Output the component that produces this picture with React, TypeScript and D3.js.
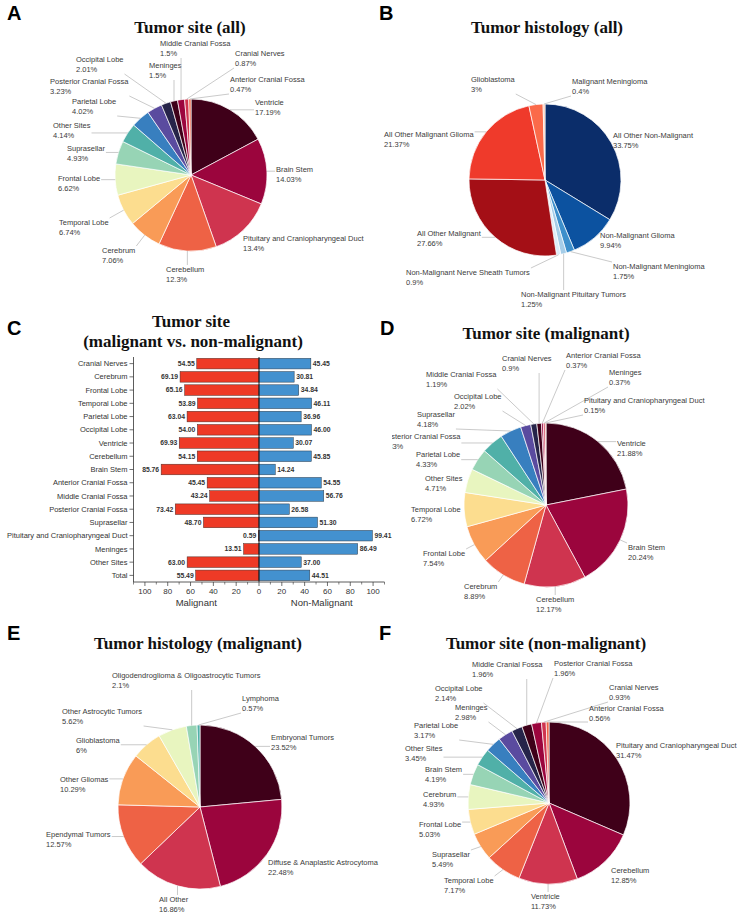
import React from 'react';
import * as d3 from 'd3';

// ---------------- DATA ----------------
const siteAllNames = ['Ventricle', 'Brain Stem', 'Pituitary and Craniopharyngeal Duct', 'Cerebellum', 'Cerebrum', 'Temporal Lobe', 'Frontal Lobe', 'Suprasellar', 'Other Sites', 'Parietal Lobe', 'Posterior Cranial Fossa', 'Occipital Lobe', 'Meninges', 'Middle Cranial Fossa', 'Cranial Nerves', 'Anterior Cranial Fossa'];
const siteAllValues = [17.19, 14.03, 13.4, 12.3, 7.06, 6.74, 6.62, 4.93, 4.14, 4.02, 3.23, 2.01, 1.5, 1.5, 0.87, 0.47];

const histAllNames = ['All Other Non-Malignant', 'Non-Malignant Glioma', 'Non-Malignant Meningioma', 'Non-Malignant Pituitary Tumors', 'Non-Malignant Nerve Sheath Tumors', 'All Other Malignant', 'All Other Malignant Glioma', 'Glioblastoma', 'Malignant Meningioma'];
const histAllValues = [33.75, 9.94, 1.75, 1.25, 0.9, 27.66, 21.37, 3, 0.4];

const barCategories = ['Cranial Nerves', 'Cerebrum', 'Frontal Lobe', 'Temporal Lobe', 'Parietal Lobe', 'Occipital Lobe', 'Ventricle', 'Cerebellum', 'Brain Stem', 'Anterior Cranial Fossa', 'Middle Cranial Fossa', 'Posterior Cranial Fossa', 'Suprasellar', 'Pituitary and Craniopharyngeal Duct', 'Meninges', 'Other Sites', 'Total'];
const barMalignant = [54.55, 69.19, 65.16, 53.89, 63.04, 54.0, 69.93, 54.15, 85.76, 45.45, 43.24, 73.42, 48.7, 0.59, 13.51, 63.0, 55.49];
const barNonMalignant = [45.45, 30.81, 34.84, 46.11, 36.96, 46.0, 30.07, 45.85, 14.24, 54.55, 56.76, 26.58, 51.3, 99.41, 86.49, 37.0, 44.51];
const barTicks = [-100, -80, -60, -40, -20, 0, 20, 40, 60, 80, 100];

const siteMalNames = ['Ventricle', 'Brain Stem', 'Cerebellum', 'Cerebrum', 'Frontal Lobe', 'Temporal Lobe', 'Other Sites', 'Parietal Lobe', 'Posterior Cranial Fossa', 'Suprasellar', 'Occipital Lobe', 'Middle Cranial Fossa', 'Cranial Nerves', 'Anterior Cranial Fossa', 'Meninges', 'Pituitary and Craniopharyngeal Duct'];
const siteMalValues = [21.88, 20.24, 12.17, 8.89, 7.54, 6.72, 4.71, 4.33, 4.33, 4.18, 2.02, 1.19, 0.9, 0.37, 0.37, 0.15];

const histMalNames = ['Embryonal Tumors', 'Diffuse & Anaplastic Astrocytoma', 'All Other', 'Ependymal Tumors', 'Other Gliomas', 'Glioblastoma', 'Other Astrocytic Tumors', 'Oligodendroglioma & Oligoastrocytic Tumors', 'Lymphoma'];
const histMalValues = [23.52, 22.48, 16.86, 12.57, 10.29, 6, 5.62, 2.1, 0.57];

const siteNonNames = ['Pituitary and Craniopharyngeal Duct', 'Cerebellum', 'Ventricle', 'Temporal Lobe', 'Suprasellar', 'Frontal Lobe', 'Cerebrum', 'Brain Stem', 'Other Sites', 'Parietal Lobe', 'Meninges', 'Occipital Lobe', 'Middle Cranial Fossa', 'Posterior Cranial Fossa', 'Cranial Nerves', 'Anterior Cranial Fossa'];
const siteNonValues = [31.47, 12.85, 11.73, 7.17, 5.49, 5.03, 4.93, 4.19, 3.45, 3.17, 2.98, 2.14, 1.96, 1.96, 0.93, 0.56];

// ---------------- LAYOUT / STYLE ----------------
const spectralColors = ['#3f0019', '#9b053d', '#cf344f', '#ee6245', '#f99b57', '#fcdd8f', '#e8f5bf', '#97d4b5', '#50b0a8', '#387fbf', '#5a4b9f', '#262449'];
const histAllColors = ['#0b2d6a', '#0c52a0', '#3d8fcb', '#a5cde8', '#dcecf8', '#a40f16', '#ef3a2b', '#fb6a4a', '#fbc2a9'];

// label anchor positions (left x, first-line baseline)
const siteAllLabelXY: [number, number][] = [[255, 105], [276, 172], [243, 241], [166, 272], [102, 253], [59, 225], [58, 181], [67, 151], [53, 128], [72, 104], [50, 84], [76, 62], [149, 68], [160, 46], [235, 56], [230, 82]];
const histAllLabelXY: [number, number][] = [[613, 138], [600, 238], [613, 269], [521, 297], [406, 275], [417, 236], [384, 137], [471, 82], [572, 84]];
const siteMalLabelXY: [number, number][] = [[617, 446], [628, 550], [536, 602], [464, 589], [423, 556], [411, 512], [425, 481], [416, 457], [382, 439], [417, 417], [454, 399], [426, 377], [502, 361], [566, 358], [609, 375], [584, 403]];
const histMalLabelXY: [number, number][] = [[271, 740], [268, 865], [159, 902], [46, 837], [60, 782], [76, 743], [62, 714], [112, 678], [242, 701]];
const siteNonLabelXY: [number, number][] = [[616, 748], [611, 873], [531, 899], [444, 883], [432, 857], [419, 827], [423, 797], [425, 772], [405, 751], [414, 728], [455, 710], [435, 691], [472, 667], [554, 666], [609, 690], [589, 711]];

const LABEL_FONT = '7.5px "Liberation Sans", Arial, sans-serif';
const SANS = '"Liberation Sans", Arial, sans-serif';
const SERIF = '"Liberation Serif", "Times New Roman", serif';

let measureCtx: CanvasRenderingContext2D | null = null;
function textWidth(s: string, font: string) {
  if (!measureCtx) {
    const c = document.createElement('canvas');
    measureCtx = c.getContext('2d');
  }
  if (!measureCtx) return s.length * 4;
  measureCtx.font = font;
  return measureCtx.measureText(s).width;
}

type PieProps = {
  cx: number; cy: number; r: number;
  names: string[]; values: number[]; colors: string[];
  labelXY: [number, number][];
};

function Pie({ cx, cy, r, names, values, colors, labelXY }: PieProps) {
  const arcs = d3.pie<number>().sort(null).value((d) => d)(values);
  const arcGen = d3.arc<d3.PieArcDatum<number>>().innerRadius(0).outerRadius(r);
  return (
    <g>
      <g transform={`translate(${cx},${cy})`}>
        {arcs.map((a, i) => (
          <path key={i} d={arcGen(a) || ''} fill={colors[i % colors.length]} stroke="#ffffff" strokeWidth={0.7} />
        ))}
      </g>
      {arcs.map((a, i) => {
        const mid = (a.startAngle + a.endAngle) / 2;
        const px = cx + r * Math.sin(mid);
        const py = cy - r * Math.cos(mid);
        const [lx, ly] = labelXY[i];
        const pct = `${values[i]}%`;
        const w = Math.max(textWidth(names[i], LABEL_FONT), textWidth(pct, LABEL_FONT));
        const x0 = lx - 1, x1 = lx + w + 1, y0 = ly - 7, y1 = ly + 12;
        const qx = Math.min(Math.max(px, x0), x1);
        const qy = Math.min(Math.max(py, y0), y1);
        const dist = Math.hypot(qx - px, qy - py);
        return (
          <g key={`l${i}`}>
            {dist > 7 && <line x1={px} y1={py} x2={qx} y2={qy} stroke="#a6a6a6" strokeWidth={0.6} />}
            <text x={lx} y={ly} fontFamily={SANS} fontSize={7.5} fill="#3b3b3b">{names[i]}</text>
            <text x={lx} y={ly + 10} fontFamily={SANS} fontSize={7.5} fill="#3b3b3b">{pct}</text>
          </g>
        );
      })}
    </g>
  );
}

function PanelTitle({ x, y, text }: { x: number; y: number; text: string }) {
  return <text x={x} y={y} textAnchor="middle" fontFamily={SERIF} fontWeight="bold" fontSize={17} fill="#111">{text}</text>;
}
function PanelLetter({ x, y, text }: { x: number; y: number; text: string }) {
  return <text x={x} y={y} fontFamily={SANS} fontWeight="bold" fontSize={20} fill="#000">{text}</text>;
}

function BarChart() {
  const x = d3.scaleLinear().domain([-110, 110]).range([133.5, 384.5]);
  const y = d3.scaleBand<string>().domain(barCategories).range([357, 582]).paddingInner(0.2).paddingOuter(0.1);
  const bw = y.bandwidth();
  const minor = d3.range(-110, 111, 10).filter((v) => v % 20 !== 0);
  const axisY = 582;
  return (
    <g>
      {barCategories.map((c, i) => {
        const yc = (y(c) as number) + bw / 2;
        return (
          <g key={c}>
            <rect x={x(-barMalignant[i])} y={y(c)} width={x(0) - x(-barMalignant[i])} height={bw} fill="#ee3a26" stroke="#4a2a25" strokeWidth={0.5} />
            <rect x={x(0)} y={y(c)} width={x(barNonMalignant[i]) - x(0)} height={bw} fill="#4391cf" stroke="#2a3a4a" strokeWidth={0.5} />
            <text x={x(-barMalignant[i]) - 2} y={yc + 2.4} textAnchor="end" fontFamily={SANS} fontWeight="bold" fontSize={6.8} fill="#333">{barMalignant[i].toFixed(2)}</text>
            <text x={x(barNonMalignant[i]) + 2} y={yc + 2.4} fontFamily={SANS} fontWeight="bold" fontSize={6.8} fill="#333">{barNonMalignant[i].toFixed(2)}</text>
            <line x1={x(-110) - 4} x2={x(-110)} y1={yc} y2={yc} stroke="#333" strokeWidth={0.7} />
            <text x={x(-110) - 6} y={yc + 2.6} textAnchor="end" fontFamily={SANS} fontSize={7.5} fill="#333">{c}</text>
          </g>
        );
      })}
      <line x1={x(0)} x2={x(0)} y1={357} y2={axisY} stroke="#111" strokeWidth={0.9} />
      <line x1={x(-110)} x2={x(-110)} y1={357} y2={axisY} stroke="#333" strokeWidth={0.8} />
      <line x1={x(-110)} x2={x(110)} y1={axisY} y2={axisY} stroke="#333" strokeWidth={0.8} />
      {barTicks.map((t) => (
        <g key={t}>
          <line x1={x(t)} x2={x(t)} y1={axisY} y2={axisY + 4} stroke="#333" strokeWidth={0.7} />
          <text x={x(t)} y={axisY + 12} textAnchor="middle" fontFamily={SANS} fontSize={8} fill="#333">{Math.abs(t)}</text>
        </g>
      ))}
      {minor.map((t) => (
        <line key={`m${t}`} x1={x(t)} x2={x(t)} y1={axisY} y2={axisY + 2.5} stroke="#333" strokeWidth={0.6} />
      ))}
      <text x={x(-55)} y={606} textAnchor="middle" fontFamily={SANS} fontSize={9.5} fill="#333">Malignant</text>
      <text x={x(55)} y={606} textAnchor="middle" fontFamily={SANS} fontSize={9.5} fill="#333">Non-Malignant</text>
    </g>
  );
}

export default function App() {
  return (
    <svg width={747} height={916} viewBox="0 0 747 916" style={{ display: 'block', position: 'absolute', left: 0, top: 0, background: '#fff' }}>
      <defs>
        <clipPath id="clipD"><rect x={392} y={300} width={355} height={320} /></clipPath>
      </defs>
      <rect x={0} y={0} width={747} height={916} fill="#fff" />

      {/* A */}
      <PanelLetter x={7} y={20} text="A" />
      <PanelTitle x={190} y={33} text="Tumor site (all)" />
      <Pie cx={191} cy={175} r={76} names={siteAllNames} values={siteAllValues} colors={spectralColors} labelXY={siteAllLabelXY} />

      {/* B */}
      <PanelLetter x={379} y={20} text="B" />
      <PanelTitle x={547} y={33} text="Tumor histology (all)" />
      <Pie cx={545} cy={180} r={76} names={histAllNames} values={histAllValues} colors={histAllColors} labelXY={histAllLabelXY} />

      {/* C */}
      <PanelLetter x={7} y={335} text="C" />
      <PanelTitle x={191} y={327} text="Tumor site" />
      <PanelTitle x={193} y={347} text="(malignant vs. non-malignant)" />
      <BarChart />

      {/* D */}
      <PanelLetter x={380} y={335} text="D" />
      <PanelTitle x={546} y={339} text="Tumor site (malignant)" />
      <g clipPath="url(#clipD)">
        <Pie cx={546} cy={505} r={82} names={siteMalNames} values={siteMalValues} colors={spectralColors} labelXY={siteMalLabelXY} />
      </g>

      {/* E */}
      <PanelLetter x={7} y={640} text="E" />
      <PanelTitle x={198} y={649} text="Tumor histology (malignant)" />
      <Pie cx={200} cy={807} r={82} names={histMalNames} values={histMalValues} colors={spectralColors} labelXY={histMalLabelXY} />

      {/* F */}
      <PanelLetter x={379} y={640} text="F" />
      <PanelTitle x={546} y={649} text="Tumor site (non-malignant)" />
      <Pie cx={549} cy={803} r={81} names={siteNonNames} values={siteNonValues} colors={spectralColors} labelXY={siteNonLabelXY} />
    </svg>
  );
}
